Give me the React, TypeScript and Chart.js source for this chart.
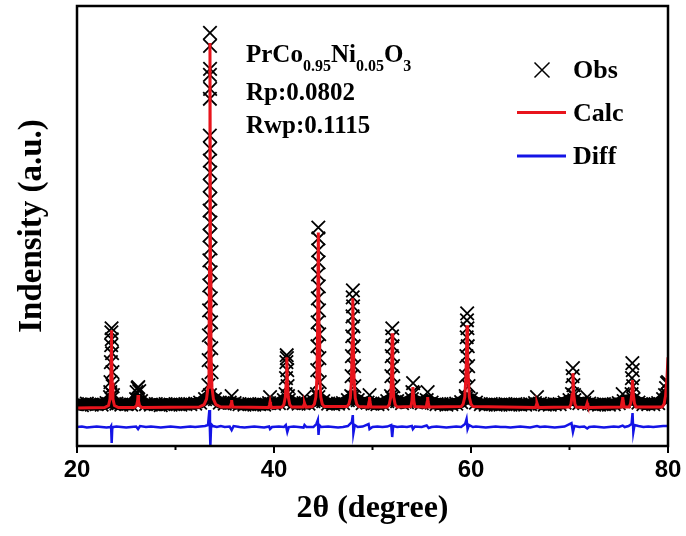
import React, { useEffect, useRef } from 'react';
import { Chart, registerables } from 'chart.js';

Chart.register(...registerables);

// ---------------- data ----------------
const X_MIN = 20;
const X_MAX = 80;
const Y_MIN = -380;
const Y_MAX = 8440;

const xMajorTicks = [20, 40, 60, 80];
const xMinorTicks = [30, 50, 70];

const xTitle = '2θ (degree)';
const yTitle = 'Indensity (a.u.)';
const sampleName = ['PrCo', '0.95', 'Ni', '0.05', 'O', '3'];
const fitStats = ['Rp:0.0802', 'Rwp:0.1115'];
const legendLabels = ['Obs', 'Calc', 'Diff'];

// Calculated profile [2θ, counts]
const calcProfile: [number, number][] = [
  [20, 380], [22.8, 390], [23.2, 430], [23.35, 560], [23.43, 900], [23.48, 1500], [23.5, 1940],
  [23.52, 1500], [23.57, 900], [23.65, 560], [23.8, 430], [24.2, 390],
  [25.8, 390], [26.05, 430], [26.15, 520], [26.2, 640], [26.25, 520], [26.35, 430], [26.6, 390],
  [32.4, 400], [32.9, 450], [33.15, 560], [33.3, 800], [33.4, 1500], [33.45, 3200], [33.5, 7700],
  [33.55, 3200], [33.6, 1500], [33.7, 800], [33.85, 560], [34.1, 450], [34.6, 400],
  [35.55, 400], [35.65, 460], [35.7, 540], [35.75, 460], [35.85, 400],
  [39.45, 390], [39.55, 450], [39.6, 500], [39.65, 450], [39.75, 390],
  [40.8, 400], [41.0, 450], [41.15, 600], [41.24, 900], [41.3, 1400], [41.36, 900], [41.45, 600],
  [41.6, 450], [41.8, 400],
  [42.95, 400], [43.05, 450], [43.1, 480], [43.15, 450], [43.25, 400],
  [43.9, 410], [44.1, 460], [44.25, 600], [44.36, 1000], [44.43, 2000], [44.5, 3900],
  [44.57, 2000], [44.64, 1000], [44.75, 600], [44.9, 460], [45.1, 410],
  [47.4, 410], [47.6, 460], [47.75, 580], [47.87, 950], [47.94, 1700], [48.0, 2580],
  [48.06, 1700], [48.13, 950], [48.25, 580], [48.4, 460], [48.6, 410],
  [49.55, 400], [49.65, 500], [49.7, 600], [49.75, 500], [49.85, 400],
  [51.5, 400], [51.7, 450], [51.85, 600], [51.94, 1000], [52.0, 1880], [52.06, 1000],
  [52.15, 600], [52.3, 450], [52.5, 400],
  [53.9, 410], [54.0, 520], [54.1, 800], [54.2, 520], [54.3, 410],
  [55.45, 400], [55.55, 500], [55.6, 600], [55.65, 500], [55.75, 400],
  [59.0, 410], [59.2, 460], [59.37, 600], [59.48, 1000], [59.55, 1500], [59.6, 2040],
  [59.65, 1500], [59.72, 1000], [59.83, 600], [60.0, 460], [60.2, 410],
  [66.55, 390], [66.65, 450], [66.7, 480], [66.75, 450], [66.85, 390],
  [70.0, 400], [70.15, 460], [70.27, 650], [70.35, 1080], [70.43, 650], [70.55, 460], [70.7, 400],
  [71.65, 390], [71.75, 450], [71.8, 480], [71.85, 450], [71.95, 390],
  [75.25, 400], [75.35, 520], [75.4, 600], [75.45, 520], [75.55, 400],
  [76.05, 400], [76.2, 470], [76.32, 650], [76.4, 940], [76.48, 650], [76.6, 470], [76.75, 400],
  [79.4, 400], [79.6, 460], [79.75, 620], [79.9, 1000], [80.0, 1400],
];

// Observed points on the Bragg peaks [2θ, counts]
const obsPeakPoints: [number, number][] = [
  // 23.5
  [23.4, 900], [23.44, 1300], [23.47, 1640], [23.49, 1900], [23.51, 1980], [23.53, 1760],
  [23.56, 1480], [23.6, 1100], [23.38, 700], [23.62, 820], [23.35, 600], [23.65, 640],
  // 26.2
  [26.05, 700], [26.15, 780], [26.22, 800], [26.32, 720],
  // 33.5
  [33.34, 840], [33.37, 1340], [33.39, 1840], [33.41, 2340], [33.43, 2840], [33.44, 3340],
  [33.45, 3840], [33.46, 4340], [33.47, 4840], [33.48, 5340], [33.485, 5840], [33.49, 6580],
  [33.495, 7060], [33.5, 7900], [33.505, 7640], [33.51, 7180], [33.515, 6780], [33.52, 5580],
  [33.53, 5100], [33.54, 4580], [33.55, 4100], [33.56, 3580], [33.57, 3100], [33.59, 2580],
  [33.61, 2100], [33.63, 1580], [33.66, 1100],
  // small peaks
  [35.7, 620], [39.6, 600], [43.1, 600],
  // 41.3
  [41.18, 660], [41.22, 980], [41.26, 1300], [41.29, 1440], [41.31, 1380], [41.34, 1140],
  [41.38, 820], [41.42, 620],
  // 44.5
  [44.36, 660], [44.39, 1140], [44.41, 1620], [44.43, 2100], [44.45, 2580], [44.47, 3060],
  [44.49, 3540], [44.5, 4000], [44.51, 3780], [44.53, 3300], [44.55, 2820], [44.57, 2340],
  [44.59, 1860], [44.61, 1380], [44.64, 900],
  // 48.0
  [47.84, 620], [47.88, 1020], [47.91, 1420], [47.94, 1820], [47.97, 2220], [47.99, 2600],
  [48.01, 2740], [48.03, 2420], [48.06, 2020], [48.09, 1620], [48.12, 1220], [48.16, 820],
  // 49.7
  [49.7, 640],
  // 52.0
  [51.88, 620], [51.92, 1020], [51.95, 1420], [51.98, 1820], [52.01, 1980], [52.04, 1620],
  [52.08, 1220], [52.12, 820],
  // 54.1, 55.6
  [54.05, 700], [54.12, 880], [54.2, 680], [55.6, 700],
  // 59.6
  [59.46, 620], [59.5, 1020], [59.53, 1420], [59.56, 1800], [59.59, 2140], [59.61, 2280],
  [59.64, 1980], [59.67, 1620], [59.71, 1220], [59.75, 820],
  // 66.7
  [66.7, 600],
  // 70.35
  [70.25, 660], [70.3, 1020], [70.35, 1180], [70.4, 840], [70.46, 640],
  // 71.8, 75.4
  [71.8, 600], [75.4, 660],
  // 76.4
  [76.3, 660], [76.34, 980], [76.38, 1280], [76.42, 1140], [76.46, 820],
  // edge peak
  [79.7, 640], [79.8, 780], [79.9, 880], [80.0, 900],
];

// Observed background band, one value every 0.5° from 20° to 80°
const obsBgStart = 20;
const obsBgStep = 0.5;
const obsBgCounts = [
  460, 440, 470, 450, 460, 450, 480, 560, 470, 450, // 20.0 - 24.5
  460, 450, 560, 520, 460, 450, 460, 440, 460, 450, // 25.0 - 29.5
  460, 450, 460, 460, 470, 490, 560, 640, 560, 490, // 30.0 - 34.5
  470, 490, 480, 460, 450, 460, 450, 460, 450, 480, // 35.0 - 39.5
  470, 480, 540, 540, 480, 470, 480, 470, 520, 600, // 40.0 - 44.5
  520, 470, 460, 470, 480, 540, 600, 540, 480, 490, // 45.0 - 49.5
  470, 460, 470, 520, 580, 520, 480, 500, 560, 510, // 50.0 - 54.5
  480, 540, 490, 460, 460, 450, 460, 470, 500, 580, // 55.0 - 59.5
  560, 490, 460, 450, 460, 450, 450, 460, 450, 460, // 60.0 - 64.5
  450, 450, 460, 480, 470, 450, 450, 460, 460, 490, // 65.0 - 69.5
  540, 540, 480, 480, 470, 450, 450, 460, 450, 460, // 70.0 - 74.5
  480, 520, 540, 560, 490, 460, 460, 460, 480, 560, // 75.0 - 79.5
  640,                                              // 80.0
];

// Difference curve [2θ, counts]
const diffCurve: [number, number][] = [
  [20, 0], [20.5, 10], [21, -10], [21.5, 0], [22, 10], [22.5, 0], [23, -10], [23.4, 0],
  [23.46, 20], [23.52, -320], [23.58, -20], [23.7, 0], [24, 10], [24.5, 0], [25, -10],
  [25.5, 0], [26, 10], [26.2, -40], [26.4, 20], [27, 0], [27.5, 10], [28, 0], [28.5, -10],
  [29, 0], [29.5, 10], [30, 0], [30.5, -10], [31, 0], [31.5, 10], [32, 0], [32.5, 10],
  [33, 20], [33.3, 40], [33.44, 340], [33.5, -100], [33.54, -380], [33.62, 60], [33.8, 20],
  [34.2, 0], [34.6, 20], [35, 0], [35.5, 10], [35.7, -60], [35.9, 20], [36.5, 0], [37, -10],
  [37.5, 0], [38, 10], [38.5, 0], [39, -10], [39.5, 10], [39.6, -40], [39.8, 0], [40.5, 10],
  [41, 0], [41.2, 40], [41.35, -100], [41.5, 0], [42, 10], [42.5, 0], [43, -10], [43.1, 40],
  [43.3, 0], [44, 0], [44.3, 60], [44.45, 140], [44.52, -160], [44.6, 40], [44.8, 0],
  [45.5, 10], [46, 0], [46.5, -10], [47, 0], [47.5, 20], [47.9, 100], [48.0, 240],
  [48.06, -120], [48.2, 40], [48.5, 0], [49, 10], [49.6, 60], [49.7, -40], [50, 0],
  [50.5, 10], [51, 0], [51.5, 10], [51.9, 40], [52.0, -200], [52.1, 20], [52.5, 0], [53, 10],
  [53.5, 0], [54, 20], [54.1, -40], [54.3, 10], [55, 0], [55.5, 30], [55.7, -20], [56, 0],
  [56.5, 10], [57, 0], [57.5, -10], [58, 0], [58.5, 10], [59, 0], [59.4, 60], [59.55, 160],
  [59.65, -40], [59.8, 40], [60.2, 0], [60.5, 10], [61, 0], [61.5, -10], [62, 0], [62.5, 10],
  [63, 0], [63.5, 0], [64, -10], [64.5, 0], [65, 10], [65.5, 0], [66, -10], [66.7, 20],
  [67, 0], [67.5, 10], [68, 0], [68.5, -10], [69, 0], [69.5, 10], [70.2, 80], [70.35, -100],
  [70.5, 20], [71, 0], [71.5, 10], [71.8, -30], [72, 0], [72.5, 10], [73, 0], [73.5, -10],
  [74, 0], [74.5, 10], [75, 0], [75.4, 30], [75.6, 0], [76, 20], [76.3, 60], [76.4, 280],
  [76.48, -100], [76.6, 40], [77, 20], [77.5, 0], [78, 10], [78.5, 0], [79, 10], [79.5, 20],
  [80, 20],
];

// ---------------- styles ----------------
const RED = '#e8141c';
const BLUE = '#1414e6';
const SERIF = '"Liberation Serif", "Times New Roman", serif';
const SANS = '"Liberation Sans", Arial, sans-serif';

const toXY = (pts: [number, number][]) => pts.map(([x, y]) => ({ x, y }));

const overlayPlugin = {
  id: 'xrdOverlay',
  afterDatasetsDraw(chart: any) {
    const { ctx, chartArea: a, scales } = chart;
    ctx.save();
    // frame
    ctx.strokeStyle = '#000';
    ctx.lineWidth = 2.5;
    ctx.strokeRect(a.left, a.top, a.right - a.left, a.bottom - a.top);
    // ticks (outward)
    ctx.lineWidth = 2;
    const tick = (v: number, len: number) => {
      const x = scales.x.getPixelForValue(v);
      ctx.beginPath();
      ctx.moveTo(x, a.bottom);
      ctx.lineTo(x, a.bottom + len);
      ctx.stroke();
    };
    xMajorTicks.forEach((v) => tick(v, 7));
    xMinorTicks.forEach((v) => tick(v, 4));

    // sample annotation
    ctx.fillStyle = '#000';
    ctx.textBaseline = 'alphabetic';
    ctx.textAlign = 'left';
    let x = 246;
    const y0 = 62;
    sampleName.forEach((part, i) => {
      const sub = i % 2 === 1;
      ctx.font = `bold ${sub ? 16 : 25}px ${SERIF}`;
      ctx.fillText(part, x, sub ? y0 + 9 : y0);
      x += ctx.measureText(part).width;
    });
    ctx.font = `bold 25px ${SERIF}`;
    ctx.fillText(fitStats[0], 246, 100);
    ctx.fillText(fitStats[1], 246, 133);

    // legend
    ctx.font = `bold 26px ${SERIF}`;
    ctx.strokeStyle = '#000';
    ctx.lineWidth = 1.5;
    const cx = 542, cy = 70, h = 7.5;
    ctx.beginPath();
    ctx.moveTo(cx - h, cy - h); ctx.lineTo(cx + h, cy + h);
    ctx.moveTo(cx + h, cy - h); ctx.lineTo(cx - h, cy + h);
    ctx.stroke();
    ctx.fillText(legendLabels[0], 573, 78);

    ctx.lineWidth = 3;
    ctx.strokeStyle = RED;
    ctx.beginPath(); ctx.moveTo(517, 112.5); ctx.lineTo(566, 112.5); ctx.stroke();
    ctx.fillText(legendLabels[1], 573, 121);

    ctx.strokeStyle = BLUE;
    ctx.beginPath(); ctx.moveTo(517, 156); ctx.lineTo(566, 156); ctx.stroke();
    ctx.fillText(legendLabels[2], 573, 164);
    ctx.restore();
  },
};

export default function App() {
  const canvasRef = useRef<HTMLCanvasElement | null>(null);

  useEffect(() => {
    if (!canvasRef.current) return;
    const obsBg = obsBgCounts.map((y, i) => ({ x: obsBgStart + i * obsBgStep, y }));
    const chart = new Chart(canvasRef.current, {
      type: 'scatter',
      data: {
        datasets: [
          {
            label: legendLabels[1],
            data: toXY(calcProfile),
            showLine: true,
            borderColor: RED,
            borderWidth: 3,
            pointRadius: 0,
            order: 0,
          },
          {
            label: legendLabels[2],
            data: toXY(diffCurve),
            showLine: true,
            borderColor: BLUE,
            borderWidth: 2.5,
            pointRadius: 0,
            order: 1,
          },
          {
            label: legendLabels[0],
            data: toXY(obsPeakPoints),
            showLine: false,
            pointStyle: 'crossRot',
            pointRadius: 9.5,
            borderColor: '#000',
            backgroundColor: '#000',
            pointBorderWidth: 1.8,
            order: 2,
          },
          {
            label: 'ObsBackground',
            data: obsBg,
            showLine: true,
            borderColor: '#000',
            borderWidth: 12,
            pointStyle: 'crossRot',
            pointRadius: 9.5,
            pointBorderWidth: 1.8,
            pointBorderColor: '#000',
            order: 3,
          },
        ],
      },
      options: {
        animation: false,
        responsive: true,
        maintainAspectRatio: false,
        layout: { autoPadding: false, padding: { top: 6, right: 18, left: 0, bottom: 0 } },
        plugins: { legend: { display: false }, tooltip: { enabled: false } },
        scales: {
          x: {
            type: 'linear',
            min: X_MIN,
            max: X_MAX,
            grid: { display: false, drawTicks: true, tickLength: 10 },
            border: { display: false },
            afterBuildTicks: (s: any) => {
              s.ticks = xMajorTicks.map((v) => ({ value: v }));
            },
            ticks: {
              padding: 0,
              autoSkip: false,
              maxRotation: 0,
              color: '#000',
              font: { family: SANS, size: 24, weight: 'bold' },
            },
            title: {
              display: true,
              text: xTitle,
              color: '#000',
              font: { family: SERIF, size: 32, weight: 'bold' },
              padding: { top: 0, bottom: 8 },
            },
            afterFit: (s: any) => {
              s.height = 90;
            },
          },
          y: {
            type: 'linear',
            min: Y_MIN,
            max: Y_MAX,
            grid: { display: false, drawTicks: false },
            border: { display: false },
            ticks: { display: false },
            title: {
              display: true,
              text: yTitle,
              color: '#000',
              font: { family: SERIF, size: 33, weight: 'bold' },
              padding: { top: 13, bottom: 0 },
            },
            afterFit: (s: any) => {
              s.width = 77;
            },
          },
        },
      },
      plugins: [overlayPlugin],
    });
    return () => chart.destroy();
  }, []);

  return (
    <div style={{ position: 'absolute', left: 0, top: 0, width: 686, height: 536, background: '#fff' }}>
      <canvas ref={canvasRef} />
    </div>
  );
}
